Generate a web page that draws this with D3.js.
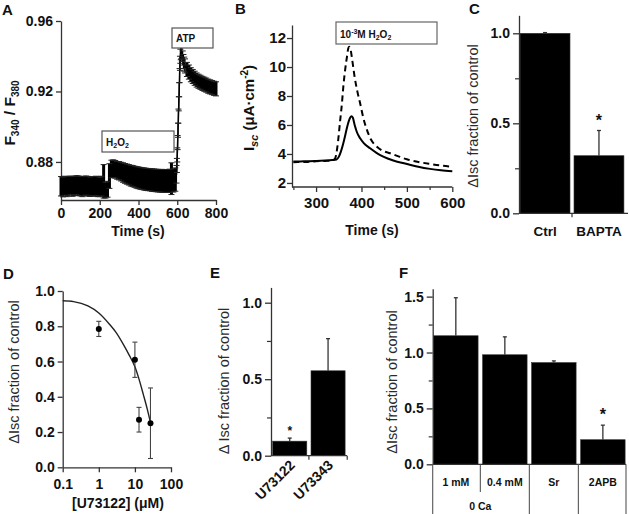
<!DOCTYPE html>
<html><head><meta charset="utf-8">
<script src="https://cdn.jsdelivr.net/npm/d3@7"></script>
<style>body{margin:0;background:#fff}</style></head><body>
<svg id="c" width="629" height="514"></svg>
<script>
// ---------- DATA ----------
// Panel A: Fura-2 ratio trace (mean ± SEM)
const aTime = [0,10,20,30,40,50,60,70,80,90,100,110,120,130,140,150,160,170,180,190,200,210,
  220,230,240,250,260,270,280,290,300,310,320,330,340,350,360,370,380,390,400,410,420,430,440,450,460,470,480,490,500,510,520,530,540,550,560,570,580,590,
  596,598,600,602,604,606,608,610,612,614,616,618,620,624,628,632,636,640,
  650,660,670,680,690,700,710,720,730,740,750,760,770,780,790,800];
const aMean = [0.8662,0.8658,0.8665,0.8660,0.8663,0.8667,0.8661,0.8664,0.8668,0.8665,0.8662,0.8660,0.8664,0.8666,0.8662,0.8659,0.8663,0.8661,0.8664,0.8660,0.8658,0.8663,
  0.8690,0.8640,0.8645,0.8720,0.8760,0.8762,0.8758,0.8752,0.8750,0.8745,0.8740,0.8735,0.8731,0.8727,0.8722,0.8720,0.8716,0.8712,0.8710,0.8707,0.8705,0.8703,0.8701,0.8700,0.8699,0.8697,0.8696,0.8695,0.8694,0.8693,0.8693,0.8692,0.8692,0.8692,0.8693,0.8705,0.8695,0.8700,
  0.8730,0.8780,0.8840,0.8910,0.8980,0.9060,0.9130,0.9210,0.9290,0.9360,0.9400,0.9420,0.9425,0.9410,0.9390,0.9370,0.9355,0.9345,
  0.9325,0.9310,0.9295,0.9285,0.9275,0.9265,0.9258,0.9252,0.9246,0.9241,0.9236,0.9230,0.9226,0.9222,0.9218,0.9215];
const aErr = [0.0055,0.0056,0.0054,0.0057,0.0055,0.0053,0.0056,0.0055,0.0054,0.0056,0.0055,0.0057,0.0055,0.0054,0.0056,0.0055,0.0054,0.0056,0.0055,0.0057,0.0055,0.0056,
  0.0095,0.0045,0.0045,0.0070,0.0050,0.0050,0.0050,0.0050,0.0052,0.0053,0.0055,0.0056,0.0057,0.0058,0.0059,0.0060,0.0060,0.0061,0.0062,0.0062,0.0062,0.0063,0.0063,0.0063,0.0063,0.0064,0.0064,0.0064,0.0064,0.0064,0.0065,0.0065,0.0065,0.0065,0.0066,0.0090,0.0066,0.0066,
  0.0050,0.0040,0.0040,0.0040,0.0040,0.0040,0.0040,0.0040,0.0040,0.0040,0.0040,0.0040,0.0040,0.0040,0.0040,0.0040,0.0040,0.0040,
  0.0040,0.0040,0.0040,0.0040,0.0040,0.0040,0.0040,0.0040,0.0040,0.0040,0.0040,0.0040,0.0040,0.0040,0.0040,0.0040];
const aXTicks = [0,200,400,600,800];
const aYTicks = [0.88,0.92,0.96];

// Panel B: Isc traces
const bSolidT = [250,260,280,300,320,335,345,350,355,360,365,370,375,378,381,385,390,397,405,419,433,448,470,500,525,551,575,600];
const bSolidY = [3.48,3.48,3.50,3.52,3.55,3.58,3.62,3.80,4.20,4.74,5.40,6.05,6.50,6.60,6.50,6.00,5.50,5.08,4.75,4.39,4.08,3.82,3.55,3.31,3.12,2.97,2.87,2.80];
const bDashT = [250,260,280,300,320,335,342,347,353,357,360,364,368,371,373,376,380,385,391,397,404,412,420,434,448,463,480,500,525,551,575,600];
const bDashY = [3.42,3.45,3.45,3.50,3.52,3.55,3.70,4.50,6.30,7.50,8.64,9.80,10.70,11.30,11.40,11.20,10.40,9.30,8.30,7.50,6.50,5.66,5.05,4.50,4.20,4.05,3.85,3.63,3.45,3.31,3.20,3.12];
const bXTicks = [300,400,500,600];
const bXMinor = [250,350,450,550];
const bYTicks = [2,4,6,8,10,12];

// Panel C
const cCats = ["Ctrl","BAPTA"];
const cVals = [1.0,0.32];
const cErr = [0.004,0.14];
const cSig = [false,true];
const cYTicks = [0,0.5,1.0];
const cYMinor = [0.25,0.75];

// Panel D: dose response
const dConc = [1,10,13,27];
const dVal = [0.785,0.61,0.27,0.25];
const dErr = [0.043,0.10,0.07,0.20];
const dFitConc = [0.1,0.2,0.5,1,2,3,5,7,10,13,17,22,28];
const dFitVal = [0.945,0.94,0.915,0.875,0.81,0.765,0.69,0.635,0.57,0.50,0.415,0.33,0.24];
const dXTicks = [0.1,1,10,100];
const dYTicks = [0,0.2,0.4,0.6,0.8,1.0];

// Panel E
const eCats = ["U73122","U73343"];
const eVals = [0.095,0.555];
const eErr = [0.02,0.21];
const eSig = [true,false];
const eYTicks = [0,0.5,1.0];
const eYMinor = [0.25,0.75];

// Panel F
const fCats = ["1 mM","0.4 mM","Sr","2APB"];
const fVals = [1.15,0.98,0.91,0.22];
const fErr = [0.34,0.16,0.015,0.13];
const fSig = [false,false,false,true];
const fGroupLabel = "0 Ca";
const fGroupCats = ["1 mM","0.4 mM"];
const fYTicks = [0,0.5,1.0,1.5];
const fYMinor = [0.25,0.75,1.25];

// ---------- DRAWING ----------
const FONT = "'Liberation Sans', Arial, Helvetica, sans-serif";
const AX = "#333";
const TICKFS = 14;
const svg = d3.select("#c");
svg.append("rect").attr("width",629).attr("height",514).attr("fill","#fff");

function styleAxis(g, fs){
  g.select(".domain").attr("stroke",AX).attr("stroke-width",1.3);
  g.selectAll(".tick line").attr("stroke",AX).attr("stroke-width",1.3);
  g.selectAll(".tick text").attr("font-family",FONT).attr("font-weight","bold")
    .attr("font-size",fs).attr("fill","#111");
}
function minorAxis(axis, at){
  const g = svg.append("g").attr("transform",at).call(axis);
  g.select(".domain").remove();
  g.selectAll(".tick line").attr("stroke",AX).attr("stroke-width",1.2);
  g.selectAll(".tick text").remove();
  return g;
}
function label(x,y,txt,opt={}){
  const t = svg.append("text").attr("x",x).attr("y",y).text(txt)
    .attr("font-family",FONT).attr("font-weight",opt.weight||"bold")
    .attr("font-size",opt.size||14).attr("fill",opt.fill||"#111")
    .attr("text-anchor",opt.anchor||"start");
  if(opt.rotate!==undefined) t.attr("transform",`rotate(${opt.rotate},${x},${y})`);
  return t;
}
function yTitle(x,y,txt){
  label(x,y,txt,{weight:"normal",size:14.5,fill:"#2a2a2a",anchor:"middle",rotate:-90});
}

// Panel letters
[["A",2,15],["B",235,14],["C",469,14],["D",3,279],["E",210,278],["F",399,278]].forEach(d=>
  label(d[1],d[2],d[0],{size:15}));

// ===== Panel A =====
{
  const x = d3.scaleLinear([0,800],[61,216]);
  const y = d3.scaleLinear([0.8584,0.96],[200,21]);
  const gx = svg.append("g").attr("transform","translate(0,200)")
    .call(d3.axisBottom(x).tickValues(aXTicks).tickSize(5).tickSizeOuter(0).tickPadding(3));
  styleAxis(gx,TICKFS);
  const gy = svg.append("g").attr("transform","translate(61,0)")
    .call(d3.axisLeft(y).tickValues(aYTicks).tickFormat(d3.format(".2f")).tickSize(5).tickSizeOuter(0).tickPadding(3));
  styleAxis(gy,TICKFS);
  const pts = aTime.map((t,i)=>({t,m:aMean[i],e:aErr[i],
    dt: Math.min(i>0?t-aTime[i-1]:99, i<aTime.length-1?aTime[i+1]-t:99)}));
  const g = svg.append("g");
  g.append("path").datum(pts).attr("fill","none").attr("stroke","#000").attr("stroke-width",1.5)
    .attr("d",d3.line().x(d=>x(d.t)).y(d=>y(d.m)));
  g.selectAll("line.eb").data(pts).join("line").attr("class","eb")
    .attr("x1",d=>x(d.t)).attr("x2",d=>x(d.t))
    .attr("y1",d=>y(d.m-d.e)).attr("y2",d=>y(d.m+d.e))
    .attr("stroke","#000").attr("stroke-width",d=>d.dt<5?1.2:3);
  ["top","bot"].forEach(k=>{
    g.selectAll("line.cap"+k).data(pts).join("line").attr("class","cap"+k)
      .attr("x1",d=>x(d.t)-3).attr("x2",d=>x(d.t)+3)
      .attr("y1",d=>y(k==="top"?d.m+d.e:d.m-d.e)).attr("y2",d=>y(k==="top"?d.m+d.e:d.m-d.e))
      .attr("stroke","#222").attr("stroke-width",1);
  });
  // boxes
  svg.append("rect").attr("x",102).attr("y",131).attr("width",72).attr("height",21)
    .attr("fill","#fff").attr("stroke","#555").attr("stroke-width",1.2);
  const h = label(106,146,"H",{size:10});
  h.append("tspan").text("2").attr("font-size",7).attr("dy",2);
  h.append("tspan").text("O").attr("dy",-2);
  h.append("tspan").text("2").attr("font-size",7).attr("dy",2);
  svg.append("rect").attr("x",172).attr("y",28).attr("width",41).attr("height",20)
    .attr("fill","#fff").attr("stroke","#555").attr("stroke-width",1.2);
  label(176,42,"ATP",{size:10});
  // titles
  label(138,236,"Time (s)",{anchor:"middle",size:14});
  const ft = label(15,113,"F",{anchor:"middle",size:15.5,rotate:-90});
  ft.append("tspan").text("340").attr("font-size",10).attr("dy",4);
  ft.append("tspan").text("  /  F").attr("dy",-4);
  ft.append("tspan").text("380").attr("font-size",10).attr("dy",4);
}

// ===== Panel B =====
{
  const x = d3.scaleLinear([247,600],[292,452.3]);
  const y = d3.scaleLinear([1.72,12.9],[187,25]);
  const gx = svg.append("g").attr("transform","translate(0,187)")
    .call(d3.axisBottom(x).tickValues(bXTicks).tickSize(5).tickSizeOuter(0).tickPadding(5));
  styleAxis(gx,15);
  gx.select(".domain").attr("d",`M292,0H${x(600)}`);
  minorAxis(d3.axisBottom(x).tickValues(bXMinor).tickSize(3),"translate(0,187)");
  const gy = svg.append("g").attr("transform","translate(292,0)")
    .call(d3.axisLeft(y).tickValues(bYTicks).tickSize(5).tickSizeOuter(0).tickPadding(1));
  styleAxis(gy,15);
  const line = d3.line().x(d=>x(d[0])).y(d=>y(d[1])).curve(d3.curveMonotoneX);
  svg.append("path").datum(bSolidT.map((t,i)=>[t,bSolidY[i]]))
    .attr("fill","none").attr("stroke","#000").attr("stroke-width",2).attr("d",line);
  svg.append("path").datum(bDashT.map((t,i)=>[t,bDashY[i]]))
    .attr("fill","none").attr("stroke","#000").attr("stroke-width",2)
    .attr("stroke-dasharray","6,4").attr("d",line);
  svg.append("rect").attr("x",336).attr("y",22).attr("width",101).attr("height",22)
    .attr("fill","#fff").attr("stroke","#666").attr("stroke-width",1.2);
  const bt = label(340,38,"10",{size:10});
  bt.append("tspan").text("-3").attr("font-size",7).attr("dy",-4);
  bt.append("tspan").text("M H").attr("dy",4);
  bt.append("tspan").text("2").attr("font-size",7).attr("dy",2);
  bt.append("tspan").text("O").attr("dy",-2);
  bt.append("tspan").text("2").attr("font-size",7).attr("dy",2);
  label(372,235,"Time (s)",{anchor:"middle",size:14});
  const it = label(254,108,"I",{anchor:"middle",size:15,rotate:-90});
  it.append("tspan").text("sc").attr("font-size",11).attr("font-style","italic").attr("dy",4);
  it.append("tspan").text("  (μA·cm").attr("dy",-4);
  it.append("tspan").text("-2").attr("font-size",10).attr("dy",-6);
  it.append("tspan").text(")").attr("dy",6);
}

// ===== Bar panel helper =====
function barPanel(o){
  const x = d3.scaleBand(o.cats,o.xr).paddingInner(o.pi).paddingOuter(o.po);
  const y = d3.scaleLinear(o.yd,o.yr);
  const y0 = y(0);
  const gy = svg.append("g").attr("transform",`translate(${o.xr[0]},0)`)
    .call(d3.axisLeft(y).tickValues(o.ticks).tickFormat(d3.format(".1f")).tickSize(6).tickSizeOuter(0).tickPadding(3));
  styleAxis(gy,TICKFS);
  minorAxis(d3.axisLeft(y).tickValues(o.minor).tickSize(4),`translate(${o.xr[0]},0)`);
  const g = svg.append("g");
  g.selectAll("rect").data(o.cats).join("rect")
    .attr("x",d=>x(d)).attr("width",x.bandwidth())
    .attr("y",(d,i)=>y(o.vals[i])).attr("height",(d,i)=>y0-y(o.vals[i]))
    .attr("fill","#000").attr("stroke","#333").attr("stroke-width",0.6);
  o.cats.forEach((c,i)=>{
    const cx = x(c)+x.bandwidth()/2, top=y(o.vals[i]), et=y(o.vals[i]+o.errs[i]);
    g.append("line").attr("x1",cx).attr("x2",cx).attr("y1",top).attr("y2",et)
      .attr("stroke","#333").attr("stroke-width",1.3);
    g.append("line").attr("x1",cx-2).attr("x2",cx+2).attr("y1",et).attr("y2",et)
      .attr("stroke","#333").attr("stroke-width",1.3);
    if(o.sig[i]) label(cx,et-o.starOff,"*",{anchor:"middle",size:o.starSize});
  });
  svg.append("line").attr("x1",o.xr[0]).attr("x2",o.xEnd).attr("y1",y0).attr("y2",y0)
    .attr("stroke",AX).attr("stroke-width",1.3);
  return {x,y,y0};
}

// ===== Panel C =====
{
  const p = barPanel({cats:cCats,vals:cVals,errs:cErr,sig:cSig,xr:[519,625],pi:0.074,po:0.02,
    yd:[0,1.1],yr:[213.3,15.3],ticks:cYTicks,minor:cYMinor,xEnd:628,starOff:5,starSize:16});
  const step = p.x.step();
  cCats.forEach((c,i)=>{
    const bx = p.x(c)+p.x.bandwidth()+ (step-p.x.bandwidth())/2;
    if(i<cCats.length-1) svg.append("line").attr("x1",bx).attr("x2",bx).attr("y1",p.y0).attr("y2",p.y0+4).attr("stroke",AX).attr("stroke-width",1.2);
    label(p.x(c)+p.x.bandwidth()/2,236,c,{anchor:"middle",size:13.5});
  });
  yTitle(478,116,"ΔIsc fraction of control");
}

// ===== Panel D =====
{
  const x = d3.scaleLog([0.1,100],[62.7,171]);
  const y = d3.scaleLinear([0,1],[467.3,291]);
  const gx = svg.append("g").attr("transform","translate(0,467.3)")
    .call(d3.axisBottom(x).tickValues(dXTicks).tickFormat(d=>String(d)).tickSize(5).tickSizeOuter(0).tickPadding(7));
  styleAxis(gx,TICKFS);
  const gy = svg.append("g").attr("transform","translate(62.7,0)")
    .call(d3.axisLeft(y).tickValues(dYTicks).tickFormat(d3.format(".1f")).tickSize(5).tickSizeOuter(0).tickPadding(3));
  styleAxis(gy,TICKFS);
  svg.append("path").datum(dFitConc.map((c,i)=>[c,dFitVal[i]]))
    .attr("fill","none").attr("stroke","#222").attr("stroke-width",1.4)
    .attr("d",d3.line().x(d=>x(d[0])).y(d=>y(d[1])).curve(d3.curveMonotoneX));
  dConc.forEach((c,i)=>{
    const cx=x(c), lo=y(dVal[i]-dErr[i]), hi=y(dVal[i]+dErr[i]);
    svg.append("line").attr("x1",cx).attr("x2",cx).attr("y1",lo).attr("y2",hi).attr("stroke","#444").attr("stroke-width",1.1);
    [lo,hi].forEach(v=>svg.append("line").attr("x1",cx-2.5).attr("x2",cx+2.5).attr("y1",v).attr("y2",v).attr("stroke","#444").attr("stroke-width",1.1));
    svg.append("circle").attr("cx",cx).attr("cy",y(dVal[i])).attr("r",3).attr("fill","#000");
  });
  label(118,508,"[U73122] (μM)",{anchor:"middle",size:14});
  yTitle(19,372,"ΔIsc fraction of control");
}

// ===== Panel E =====
{
  const p = barPanel({cats:eCats,vals:eVals,errs:eErr,sig:eSig,xr:[271,346.8],pi:0.11,po:0.044,
    yd:[0,1.1],yr:[455.7,287.4],ticks:eYTicks,minor:eYMinor,xEnd:347,starOff:3,starSize:12});
  const step = p.x.step();
  eCats.forEach((c,i)=>{
    const bx = p.x(c)+p.x.bandwidth()+(step-p.x.bandwidth())/2;
    svg.append("line").attr("x1",bx).attr("x2",bx).attr("y1",p.y0).attr("y2",p.y0+4).attr("stroke",AX).attr("stroke-width",1.2);
    const cx = p.x(c)+p.x.bandwidth()/2+6;
    label(cx,466,c,{anchor:"end",size:14,rotate:-45});
  });
  yTitle(229,381,"Δ Isc fraction of control");
}

// ===== Panel F =====
{
  const p = barPanel({cats:fCats,vals:fVals,errs:fErr,sig:fSig,xr:[432.7,626],pi:0.092,po:0.018,
    yd:[0,1.57],yr:[464.3,288.8],ticks:fYTicks,minor:fYMinor,xEnd:626,starOff:5,starSize:16});
  const step = p.x.step(), gap = step-p.x.bandwidth();
  const bounds = [432.7].concat(fCats.map((c,i)=> i<fCats.length-1 ? p.x(c)+p.x.bandwidth()+gap/2 : 626));
  bounds.forEach((bx,i)=>{
    const inner = i>0 && i<fCats.length && fGroupCats.includes(fCats[i-1]) && fGroupCats.includes(fCats[i]);
    svg.append("line").attr("x1",bx).attr("x2",bx).attr("y1",p.y0).attr("y2",inner?492:514)
      .attr("stroke","#555").attr("stroke-width",1.1);
  });
  fCats.forEach(c=> label(p.x(c)+p.x.bandwidth()/2,486,c,{anchor:"middle",size:10.5}));
  const gx0 = p.x(fGroupCats[0]), gx1 = p.x(fGroupCats[fGroupCats.length-1])+p.x.bandwidth();
  label((gx0+gx1)/2,510,fGroupLabel,{anchor:"middle",size:10.5});
  yTitle(397,382,"ΔIsc fraction of control");
}
</script></body></html>
